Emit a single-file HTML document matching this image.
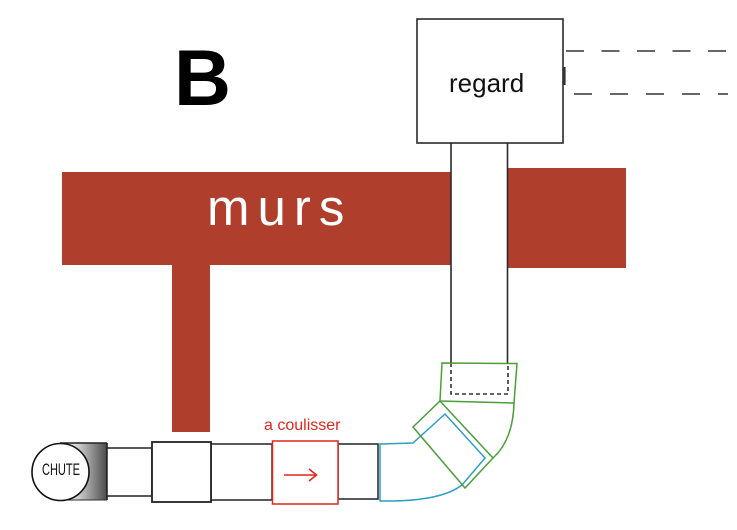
<!DOCTYPE html>
<html>
<head>
<meta charset="utf-8">
<style>
  html, body { margin: 0; padding: 0; background: #ffffff; }
  svg { display: block; }
</style>
</head>
<body>
<svg width="737" height="530" viewBox="0 0 737 530" xmlns="http://www.w3.org/2000/svg">
  <defs>
    <linearGradient id="g1" x1="0" y1="0" x2="1" y2="0">
      <stop offset="0" stop-color="#f4f4f4"/>
      <stop offset="0.35" stop-color="#d8d8d8"/>
      <stop offset="1" stop-color="#4a4a4a"/>
    </linearGradient>
  </defs>
  <rect x="0" y="0" width="737" height="530" fill="#ffffff"/>

  <!-- B -->
  <text x="174" y="105" font-family="Liberation Sans, sans-serif" font-weight="bold" font-size="79" fill="#000">B</text>

  <!-- murs -->
  <rect x="62" y="172" width="389" height="93" fill="#af3f2c"/>
  <rect x="507" y="168" width="119" height="100" fill="#af3f2c"/>
  <rect x="172" y="264" width="38" height="168" fill="#af3f2c"/>
  <text x="207" y="225" font-family="Liberation Sans, sans-serif" font-size="51" letter-spacing="8" fill="#ffffff">murs</text>

  <!-- regard -->
  <rect x="417" y="19" width="146" height="124" fill="#fff" stroke="#2a2a2a" stroke-width="1.6"/>
  <text x="449" y="92" font-family="Liberation Sans, sans-serif" font-size="26" fill="#111">regard</text>
  <rect x="563" y="67" width="2.6" height="18" fill="#333"/>
  <line x1="566" y1="51" x2="728" y2="51" stroke="#333" stroke-width="1.5" stroke-dasharray="18 17.5"/>
  <line x1="574" y1="94" x2="728" y2="94" stroke="#333" stroke-width="1.5" stroke-dasharray="18 18"/>

  <!-- vertical pipe -->
  <line x1="451" y1="143" x2="451" y2="363" stroke="#2a2a2a" stroke-width="1.6"/>
  <line x1="507.5" y1="143" x2="507.5" y2="363" stroke="#2a2a2a" stroke-width="1.6"/>
  <polyline points="451,363 451,394 508,394 508,363" fill="none" stroke="#333" stroke-width="1.6" stroke-dasharray="4 3"/>

  <!-- green elbow -->
  <polygon points="442,363 517,363.5 514,403 440,401" fill="none" stroke="#4b9e38" stroke-width="1.5"/>
  <path d="M514,403 Q513,440 493,458" fill="none" stroke="#4b9e38" stroke-width="1.5"/>

  <!-- blue elbow -->
  <path d="M380,444 L413,443 L445,414 L485,458 L462,485 Q440,502 380,501 Z" fill="none" stroke="#2b9fc6" stroke-width="1.5"/>

  <!-- green tilted rect -->
  <polygon points="440,401 493,458 465,488 413,427" fill="none" stroke="#4b9e38" stroke-width="1.5"/>

  <!-- bottom pipe -->
  <rect x="60" y="443" width="47" height="57" fill="url(#g1)"/>
  <line x1="60" y1="443" x2="107" y2="443" stroke="#222" stroke-width="1.4"/>
  <line x1="107" y1="443" x2="107" y2="500" stroke="#222" stroke-width="1.6"/>
  <line x1="60" y1="500" x2="107" y2="500" stroke="#333" stroke-width="1"/>

  <rect x="107" y="448" width="45" height="48" fill="#fff" stroke="#222" stroke-width="1.5"/>
  <rect x="211" y="444" width="61" height="56" fill="#fff" stroke="#222" stroke-width="1.5"/>
  <rect x="338" y="444" width="40" height="55" fill="#fff" stroke="#222" stroke-width="1.5"/>
  <rect x="152" y="442" width="59" height="60" fill="#fff" stroke="#222" stroke-width="1.8"/>

  <circle cx="60.5" cy="472" r="28.5" fill="#fff" stroke="#111" stroke-width="1.6"/>
  <text x="42" y="475" font-family="Liberation Sans, sans-serif" font-size="17" fill="#111" textLength="38" lengthAdjust="spacingAndGlyphs">CHUTE</text>

  <!-- a coulisser -->
  <rect x="272.5" y="441" width="65.5" height="63" fill="#fff" stroke="#e0261d" stroke-width="1.5"/>
  <line x1="284" y1="475" x2="316" y2="475" stroke="#e0261d" stroke-width="1.6"/>
  <polyline points="309,469 316.5,475 309,481" fill="none" stroke="#e0261d" stroke-width="1.6"/>
  <text x="264" y="430" font-family="Liberation Sans, sans-serif" font-size="16" fill="#e0261d">a coulisser</text>
</svg>
</body>
</html>
